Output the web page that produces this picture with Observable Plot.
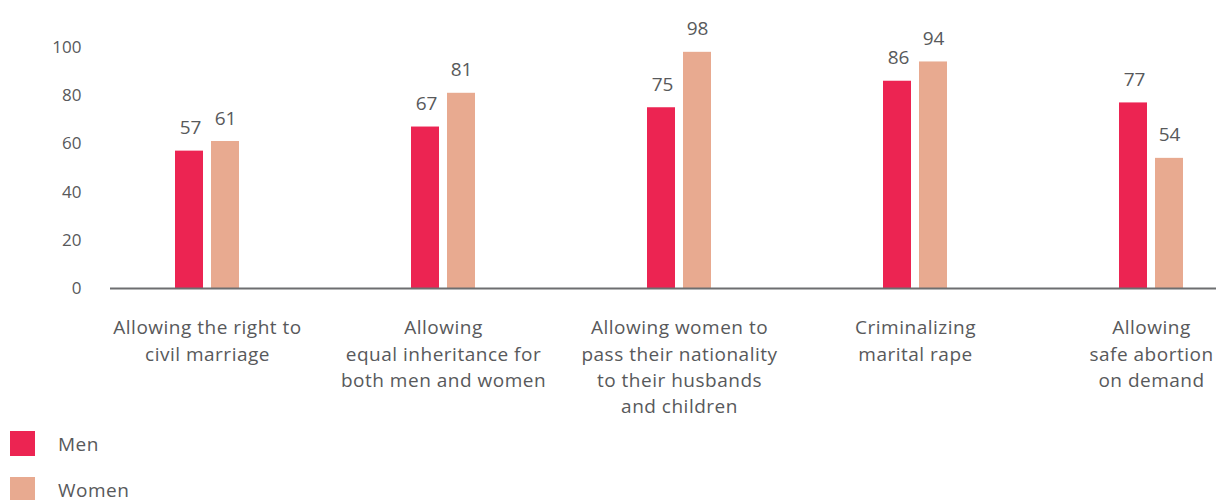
<!DOCTYPE html>
<html>
<head>
<meta charset="utf-8">
<script src="https://cdn.jsdelivr.net/npm/d3@7"></script>
<script src="https://cdn.jsdelivr.net/npm/@observablehq/plot@0.6"></script>
<style>
  body { margin: 0; background: #fff; font-family: "Open Sans", Lato, sans-serif; }
  #legend { margin-top: 6px; }
  .row { display: flex; align-items: center; height: 25px; margin-bottom: 21px; }
  .sw { width: 25px; height: 25px; margin-left: 10px; }
  .lab { margin-left: 23px; font-size: 19px; letter-spacing: 0.5px; color: #58595b; }
  g[aria-label="x-axis tick label"] { letter-spacing: 0.5px; }
</style>
</head>
<body>
<div id="chart"></div>
<div id="legend"></div>
<script>
const categories = [
  "Allowing the right to\ncivil marriage",
  "Allowing\nequal inheritance for\nboth men and women",
  "Allowing women to\npass their nationality\nto their husbands\nand children",
  "Criminalizing\nmarital rape",
  "Allowing\nsafe abortion\non demand"
];
const men = [57, 67, 75, 86, 77];
const women = [61, 81, 98, 94, 54];
const seriesNames = ["Men", "Women"];
const seriesColors = ["#ec2452", "#e8aa90"];
const yTicks = [0, 20, 40, 60, 80, 100];

const rows = [];
categories.forEach((c, i) => {
  rows.push({category: c, gender: "Men", value: men[i]});
  rows.push({category: c, gender: "Women", value: women[i]});
});
const menRows = rows.filter(d => d.gender === "Men");
const womenRows = rows.filter(d => d.gender === "Women");

const textColor = "#58595b";
const chart = Plot.plot({
  width: 1216,
  height: 425,
  marginLeft: 110,
  marginRight: 0,
  marginTop: 47,
  marginBottom: 137,
  style: {fontFamily: "'Open Sans', Lato, sans-serif", color: textColor, background: "#fff"},
  x: {domain: categories, range: [88, 1269], padding: 0, label: null},
  y: {domain: [0, 100], label: null},
  color: {domain: seriesNames, range: seriesColors},
  marks: [
    Plot.axisY({ticks: yTicks, tickSize: 0, tickPadding: 29, fontSize: 17, fill: textColor, label: null}),
    Plot.axisX({tickSize: 0, tickPadding: 27, fontSize: 19, lineHeight: 1.39, fill: textColor, label: null}),
    Plot.barY(menRows, {x: "category", y: "value", fill: d => d.gender, insetLeft: 86, insetRight: 122}),
    Plot.barY(womenRows, {x: "category", y: "value", fill: d => d.gender, insetLeft: 122, insetRight: 86}),
    Plot.text(menRows, {x: "category", y: "value", text: d => String(d.value), dx: -17, dy: -23, fontSize: 19, fill: textColor}),
    Plot.text(womenRows, {x: "category", y: "value", text: d => String(d.value), dx: 18, dy: -23, fontSize: 19, fill: textColor}),
    Plot.ruleY([0], {stroke: "#6d6e70", strokeWidth: 2})
  ]
});
document.getElementById("chart").appendChild(chart);

const legend = document.getElementById("legend");
seriesNames.forEach((name, i) => {
  const row = document.createElement("div");
  row.className = "row";
  const sw = document.createElement("div");
  sw.className = "sw";
  sw.style.background = seriesColors[i];
  const lab = document.createElement("div");
  lab.className = "lab";
  lab.textContent = name;
  row.appendChild(sw);
  row.appendChild(lab);
  legend.appendChild(row);
});
</script>
</body>
</html>
